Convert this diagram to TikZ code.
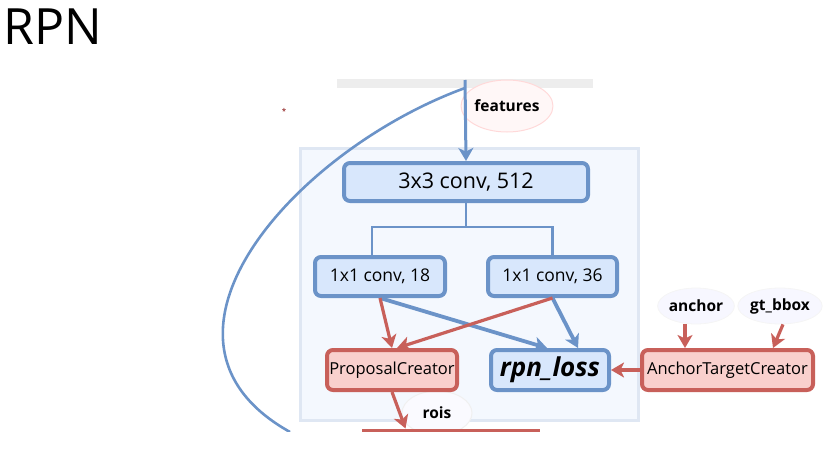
\documentclass[tikz,border=0pt]{standalone}
\usepackage{fontspec}
\setmainfont{Open Sans}
\usetikzlibrary{arrows.meta,shapes.geometric}
\definecolor{bline}{HTML}{6B93C8}
\definecolor{bfill}{HTML}{D8E7FC}
\definecolor{rline}{HTML}{C8605A}
\definecolor{rfill}{HTML}{F9D0CD}
\definecolor{frfill}{HTML}{F4F8FE}
\definecolor{frline}{HTML}{DFE7F3}
\definecolor{barcol}{HTML}{EDEDED}
\tikzset{
  bbox/.style={draw=bline, fill=bfill, line width=4pt, rounded corners=6pt, inner sep=0pt, font=\fontsize{17.5}{20}\selectfont},
  rbox/.style={draw=rline, fill=rfill, line width=4pt, rounded corners=6pt, inner sep=0pt, font=\fontsize{16.5}{19}\selectfont},
  lbl/.style={ellipse, inner sep=0pt, font=\bfseries\fontsize{15.5}{18}\selectfont},
  tip/.style={-{Stealth[length=13pt,width=15pt,inset=3.5pt]}},
  barrow/.style={tip, draw=bline, line width=3.8pt},
  rarrow/.style={tip, draw=rline, line width=3.2pt},
}
\begin{document}
\begin{tikzpicture}[x=1pt,y=-1pt]
\useasboundingbox (0,0) rectangle (837,452);
\clip (0,0) rectangle (837,431);
% title
\node[anchor=west, font=\fontsize{50}{56}\selectfont, inner sep=0pt] (title) at (3,27) {RPN};
\node[text=red!50!black, font=\fontsize{8}{8}\selectfont, inner sep=0pt] (star) at (284,111) {*};
% top bar
\fill[barcol] (337,79) rectangle (593,88);
\coordinate (top) at (465,80);
\coordinate (cstart) at (465,88);
% frame
\draw[fill=frfill, draw=frline, line width=3pt] (300.5,148.5) rectangle (638.5,420);
% label ellipses
\node[lbl, draw=red!15, fill=red!3, line width=1pt, minimum width=80pt, minimum height=52pt] (feat) at (507,106) {features};
\node[lbl, draw=black!6, fill=blue!2, line width=1pt, minimum width=70pt, minimum height=44pt] (rois) at (437,413) {rois};
\node[lbl, draw=black!4, fill=blue!3, line width=0.8pt, minimum width=68pt, minimum height=36pt] (anc) at (696,306) {anchor};
\node[lbl, draw=black!4, fill=blue!3, line width=0.8pt, minimum width=68pt, minimum height=36pt] (gt) at (780,306) {gt\_bbox};
% boxes
\node[bbox, minimum width=244pt, minimum height=38pt, font=\fontsize{21.5}{24}\selectfont] (c3) at (466,182) {3x3 conv, 512};
\node[bbox, minimum width=130pt, minimum height=39pt] (c18) at (380,276.5) {1x1 conv, 18};
\node[bbox, minimum width=129pt, minimum height=39pt] (c36) at (552.5,276.5) {1x1 conv, 36};
\node[rbox, minimum width=130pt, minimum height=40pt] (pc) at (392,370) {ProposalCreator};
\node[bbox, minimum width=118pt, minimum height=40pt, font=\bfseries\itshape\fontsize{26}{30}\selectfont] (loss) at (550,370) {rpn\_loss};
\node[rbox, minimum width=171pt, minimum height=40pt] (atc) at (727.5,370) {AnchorTargetCreator};
\node[draw=rline, fill=rfill, line width=3pt, minimum width=175pt, minimum height=30pt, inner sep=0pt] (bot) at (450.5,445) {};
% curve
\draw[bline, line width=2.6pt] (cstart) .. controls (295,150) and (125,340) .. (290,432);
% features arrow
\draw[tip, draw=bline, line width=3pt] (top) -- (c3.north);
% tree
\coordinate (split) at (466,227);
\draw[bline, line width=2.8pt] (c3.south) -- (split);
\draw[bline, line width=2.8pt] ([xshift=-8pt]c18.north) |- (split) -| (c36.north);
% blue arrows
\draw[barrow] (c18.south) -- ([xshift=-3pt]loss.north);
\draw[barrow] (c36.south) -- ([xshift=28pt]loss.north);
% red arrows
\draw[rarrow] (c18.south) -- (pc.north);
\draw[rarrow] (c36.south) -- ([xshift=5pt]pc.north);
\draw[rarrow] (atc.west) -- (loss.east);
\draw[rarrow] ([xshift=-11pt]anc.south) -- ([xshift=-42.5pt]atc.north);
\draw[rarrow] ([xshift=3pt]gt.south) -- ([xshift=45.5pt]atc.north);
\draw[rarrow] (pc.south) -- ([xshift=-45pt]bot.north);
\end{tikzpicture}
\end{document}
